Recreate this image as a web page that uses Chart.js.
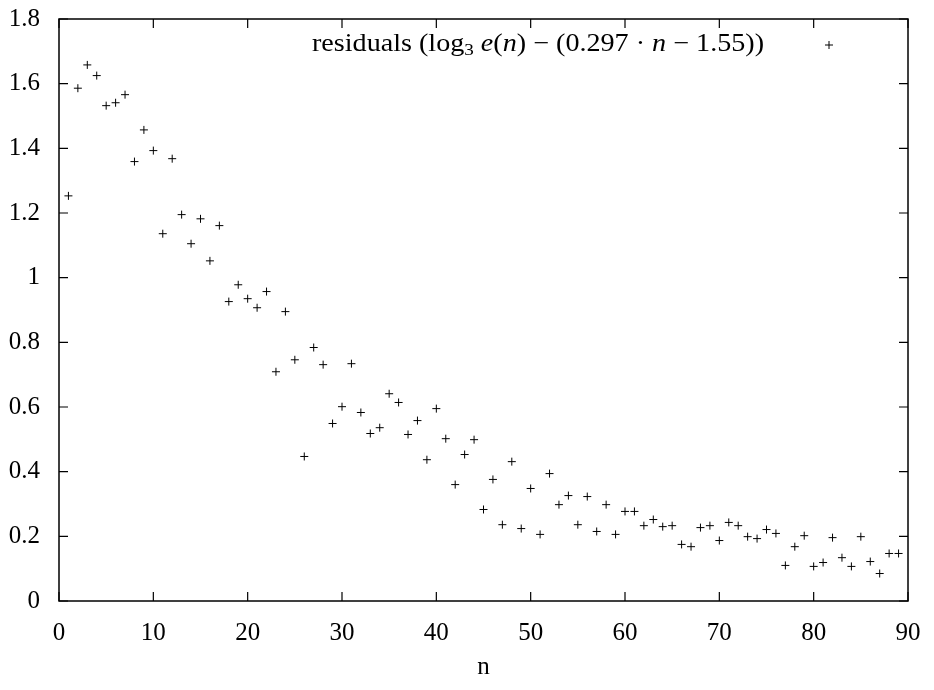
<!DOCTYPE html>
<html>
<head>
<meta charset="utf-8">
<script src="https://cdn.jsdelivr.net/npm/chart.js@4"></script>
<style>
  html, body { margin: 0; padding: 0; background: #fff; }
  #wrap { width: 934px; height: 690px; }
</style>
</head>
<body>
<div id="wrap"><canvas id="residualChart" width="934" height="690"></canvas></div>
<script>
// residuals, n = 1..89
const nValues = [];
for (let i = 1; i <= 89; i++) nValues.push(i);
const residuals = [
    1.253, 1.586, 1.658, 1.625, 1.532, 1.541, 1.566, 1.359, 1.457, 1.393,
    1.136, 1.368, 1.195, 1.105, 1.182, 1.052, 1.161, 0.926, 0.978, 0.935,
    0.907, 0.957, 0.709, 0.895, 0.746, 0.447, 0.784, 0.731, 0.549, 0.601,
    0.734, 0.583, 0.518, 0.536, 0.641, 0.614, 0.515, 0.558, 0.437, 0.595,
    0.502, 0.360, 0.453, 0.499, 0.283, 0.376, 0.236, 0.431, 0.224, 0.348,
    0.206, 0.394, 0.298, 0.326, 0.236, 0.323, 0.215, 0.298, 0.206, 0.277,
    0.277, 0.233, 0.252, 0.230, 0.233, 0.175, 0.168, 0.227, 0.233, 0.187,
    0.243, 0.233, 0.199, 0.193, 0.221, 0.209, 0.110, 0.168, 0.202, 0.107,
    0.119, 0.196, 0.134, 0.107, 0.199, 0.122, 0.085, 0.147, 0.147
];
const xTicks = [0, 10, 20, 30, 40, 50, 60, 70, 80, 90];
const yTicks = [0, 0.2, 0.4, 0.6, 0.8, 1, 1.2, 1.4, 1.6, 1.8];

const FONT = 'Liberation Serif';
const SIZE = 25;

// gnuplot-ish frame: box on all four sides with ticks pointing inward
const framePlugin = {
    id: 'frame',
    afterDraw(chart) {
        const c = chart.ctx;
        const a = chart.chartArea;
        const xs = chart.scales.x, ys = chart.scales.y;
        const len = 9;
        c.save();
        c.strokeStyle = '#000';
        c.lineWidth = 1.5;
        c.strokeRect(a.left, a.top, a.right - a.left, a.bottom - a.top);
        c.lineWidth = 1.2;
        c.beginPath();
        xTicks.forEach(v => {
            const px = xs.getPixelForValue(v);
            c.moveTo(px, a.bottom); c.lineTo(px, a.bottom - len);
            c.moveTo(px, a.top); c.lineTo(px, a.top + len);
        });
        yTicks.forEach(v => {
            const py = ys.getPixelForValue(v);
            c.moveTo(a.left, py); c.lineTo(a.left + len, py);
            c.moveTo(a.right, py); c.lineTo(a.right - len, py);
        });
        c.stroke();

        // key: text on the left, sample mark on the right
        const y = 44;
        const parts = [
            ['residuals (log', ''],
            ['3', 'sub'],
            [' ', ''],
            ['e', 'it'],
            ['(', ''],
            ['n', 'it'],
            [') \u2212 (0.297 \u00b7 ', ''],
            ['n', 'it'],
            [' \u2212 1.55))', '']
        ];
        const fontFor = s => s === 'it' ? 'italic ' + SIZE + 'px ' + FONT
            : (s === 'sub' ? '17px ' + FONT : SIZE + 'px ' + FONT);
        const widths = parts.map(p => { c.font = fontFor(p[1]); return c.measureText(p[0]).width; });
        const total = widths.reduce((s, w) => s + w, 0);
        const left = 312, right = 764;
        const k = (right - left) / total;
        c.fillStyle = '#000';
        c.textBaseline = 'middle';
        c.translate(left, 0);
        c.scale(k, 1);
        let x = 0;
        parts.forEach((p, i) => {
            c.font = fontFor(p[1]);
            c.fillText(p[0], x, p[1] === 'sub' ? y + 7 : y);
            x += widths[i];
        });
        c.setTransform(1, 0, 0, 1, 0, 0);
        c.lineWidth = 1;
        c.beginPath();
        c.moveTo(829 - 4, 45); c.lineTo(829 + 4, 45);
        c.moveTo(829, 45 - 4); c.lineTo(829, 45 + 4);
        c.stroke();
        c.restore();
    }
};

const ctx = document.getElementById('residualChart').getContext('2d');
new Chart(ctx, {
    type: 'scatter',
    data: {
        datasets: [{
            label: 'residuals',
            data: nValues.map((n, i) => ({ x: n, y: residuals[i] })),
            pointStyle: 'cross',
            radius: 4,
            borderColor: '#000',
            borderWidth: 1,
            backgroundColor: '#000'
        }]
    },
    options: {
        responsive: false,
        animation: false,
        layout: { padding: { left: 0, top: 19, right: 26, bottom: 0 } },
        plugins: { legend: { display: false }, tooltip: { enabled: false } },
        scales: {
            x: {
                type: 'linear',
                min: 0, max: 90,
                afterBuildTicks: s => { s.ticks = xTicks.map(v => ({ value: v })); },
                afterFit: s => { s.height = 89; s.paddingLeft = 0; s.paddingRight = 0; },
                grid: { display: false, drawTicks: false },
                border: { display: false },
                ticks: { color: '#000', padding: 17, maxRotation: 0, font: { family: FONT, size: SIZE },
                         callback: v => String(v) },
                title: { display: true, text: 'n', color: '#000', padding: { top: 0, bottom: 8 }, font: { family: FONT, size: SIZE } }
            },
            y: {
                type: 'linear',
                min: 0, max: 1.8,
                afterBuildTicks: s => { s.ticks = yTicks.map(v => ({ value: v })); },
                afterFit: s => { s.width = 59; s.paddingTop = 0; s.paddingBottom = 0; },
                grid: { display: false, drawTicks: false },
                border: { display: false },
                ticks: { color: '#000', padding: 19, font: { family: FONT, size: SIZE },
                         callback: v => String(Math.round(v * 10) / 10) }
            }
        }
    },
    plugins: [framePlugin]
});
</script>
</body>
</html>
